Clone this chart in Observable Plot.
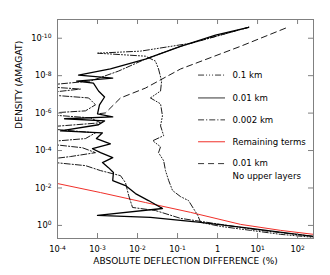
<!DOCTYPE html>
<html>
<head>
<meta charset="utf-8">
<script src="https://cdn.jsdelivr.net/npm/d3@7"></script>
<script src="https://cdn.jsdelivr.net/npm/@observablehq/plot@0.6"></script>
<style>
  html, body { margin: 0; padding: 0; background: white; }
</style>
</head>
<body>
<div id="chart"></div>
<script>
// ---- data ----
// 0.01 km step (solid)
const km001_density = [2.6e-11, 6.9e-11, 2.7e-10, 1.3e-9, 4.4e-9, 9.3e-9, 1.34e-8, 1.94e-8, 2.5e-8, 6.6e-8, 1.38e-7, 3.6e-7, 1.1e-6, 1.6e-6, 2.0e-6, 2.6e-6, 4.2e-6, 8.9e-6, 1.13e-5, 2.3e-5, 4.4e-5, 8.0e-5, 1.3e-4, 2.4e-4, 4.4e-4, 8.2e-4, 1.5e-3, 4.0e-3, 7.4e-3, 2.0e-2, 4.7e-2, 0.125, 0.29, 0.37, 0.69, 1.44, 3.85];
const km001_diff    = [6.0, 0.89, 0.119, 1.58e-2, 2.1e-3, 3.35e-4, 2.4e-3, 3.0e-4, 7.9e-4, 1.06e-3, 1.5e-3, 1.12e-3, 1.0e-3, 2.4e-3, 1.5e-4, 1.5e-3, 1.06e-3, 1.19e-4, 1.33e-3, 9.4e-4, 2.1e-3, 7.5e-4, 1.19e-3, 2.4e-3, 1.33e-3, 1.88e-3, 2.5e-3, 2.4e-3, 5.0e-3, 8.9e-3, 1.88e-2, 4.2e-2, 1.0e-3, 2.1e-2, 0.376, 6.7, 251];

// 0.1 km step (dash dot dot)
const km01_density = [2.6e-11, 1.86e-10, 4.9e-10, 6.3e-10, 9.1e-10, 1.67e-9, 4.4e-9, 1.94e-8, 6.6e-8, 1.55e-7, 3.2e-7, 1.4e-6, 4.8e-6, 1.6e-5, 3.0e-5, 6.3e-5, 1.3e-4, 3.5e-4, 1.18e-3, 4.0e-3, 1.37e-2, 2.9e-2, 4.7e-2, 0.125, 0.29, 0.69, 1.13, 1.84, 3.0, 4.35];
const km01_diff    = [6.0, 0.21, 1.19e-2, 1.0e-3, 1.58e-2, 2.8e-2, 3.35e-2, 4.0e-2, 3.76e-2, 2.1e-2, 3.76e-2, 4.2e-2, 3.76e-2, 4.5e-2, 2.4e-2, 3.76e-2, 3.35e-2, 4.5e-2, 5.0e-2, 6.0e-2, 7.5e-2, 0.119, 0.188, 0.25, 0.32, 0.376, 1.19, 6.7, 37.6, 251];

// 0.002 km step (dash dot)
const km0002_density = [2.6e-11, 2.7e-10, 1.3e-9, 5.7e-9, 1.94e-8, 3.6e-8, 5.2e-8, 9.5e-8, 1.55e-7, 3.6e-7, 7.6e-7, 1.1e-6, 1.8e-6, 3.3e-6, 6.1e-6, 1.13e-5, 2.3e-5, 3.8e-5, 7.1e-5, 1.3e-4, 2.1e-4, 3.5e-4, 6.4e-4, 1.18e-3, 2.2e-3, 5.2e-3, 2.5e-2, 0.11, 0.16, 0.42, 0.88, 1.84, 3.85];
const km0002_diff    = [6.0, 0.119, 1.58e-2, 3.35e-3, 6.7e-4, 3e-5, 3.76e-4, 3e-5, 6.0e-4, 8.9e-4, 5.0e-4, 3e-5, 6.7e-4, 1.19e-3, 3e-5, 8.9e-4, 5.0e-4, 3e-5, 4.2e-4, 8.9e-4, 2.1e-4, 3e-5, 5.0e-4, 1.19e-3, 3.76e-3, 5.0e-3, 6.0e-3, 7.5e-3, 2.8e-2, 0.119, 1.19, 11.9, 251];

// Remaining terms (red)
const rem_density = [5.8e-3, 1.76e-2, 6.0e-2, 0.20, 0.88, 1.84, 3.0];
const rem_diff    = [1e-4, 1.19e-3, 1.58e-2, 0.21, 3.76, 37.6, 251];

// 0.01 km, no upper layers (dashed)
const noup_density = [2.9e-11, 2.7e-10, 4.4e-9, 4.6e-8, 1.55e-7, 9.8e-7, 1.1e-6];
const noup_diff    = [50, 3.76, 0.119, 1.58e-2, 3.76e-3, 1.58e-3, 1.0e-3];

// ticks
const xTicks = [1e-4, 1e-3, 1e-2, 1e-1, 1, 10, 100];
const xTickLabels = ["10^-4", "10^-3", "10^-2", "10^-1", "1", "10^1", "10^2"];
const yTicks = [1e-10, 1e-8, 1e-6, 1e-4, 1e-2, 1];
const yTickLabels = ["10^-10", "10^-8", "10^-6", "10^-4", "10^-2", "10^0"];

// legend
const legendLabels = ["0.1 km", "0.01 km", "0.002 km", "Remaining terms", "0.01 km", "No upper layers"];

// ---- layout / styles ----
const W = 330, H = 275, mL = 57, mR = 17, mT = 19, mB = 37;
const frameW = W - mL - mR, frameH = H - mT - mB;
const styles = {
  km01:   {stroke: "black", strokeWidth: 0.9, strokeDasharray: "6,2,1,2,1,2,1,2"},
  km001:  {stroke: "black", strokeWidth: 1.3},
  km0002: {stroke: "black", strokeWidth: 0.9, strokeDasharray: "6,2,1.2,2"},
  rem:    {stroke: "#f0302a", strokeWidth: 1},
  noup:   {stroke: "black", strokeWidth: 0.9, strokeDasharray: "6,4"}
};
// legend placement in data coordinates
const legendLayout = {
  x1: 0.335, x2: 1.58, xText: 2.37,
  rows: [9.3e-9, 1.55e-7, 2.3e-6, 3.4e-5, 5.0e-4, 2.5e-3],
  styleKeys: ["km01", "km001", "km0002", "rem", "noup", null]
};

const zip = (ys, xs) => ys.map((y, i) => ({y, x: xs[i]}));
const series = [
  ["rem", zip(rem_density, rem_diff)],
  ["noup", zip(noup_density, noup_diff)],
  ["km01", zip(km01_density, km01_diff)],
  ["km0002", zip(km0002_density, km0002_diff)],
  ["km001", zip(km001_density, km001_diff)]
];

const marks = [];
for (const [key, data] of series) {
  marks.push(Plot.line(data, {x: "x", y: "y", clip: true, ...styles[key]}));
}
// legend
legendLayout.rows.forEach((y, i) => {
  const k = legendLayout.styleKeys[i];
  if (k) {
    const s = {...styles[k], strokeWidth: k === "rem" ? 1 : 0.8};
    marks.push(Plot.ruleY([y], {y: d => d, x1: legendLayout.x1, x2: legendLayout.x2, ...s}));
  }
});
marks.push(Plot.text(legendLabels.map((t, i) => ({t, y: legendLayout.rows[i]})), {
  x: legendLayout.xText, y: "y", text: "t", textAnchor: "start", fontSize: 8.6, fill: "black"
}));

// frame ticks (inward)
const tickStroke = "#808080";
marks.push(Plot.ruleX(xTicks, {x: d => d, insetTop: frameH - 5, stroke: tickStroke}));
marks.push(Plot.ruleX(xTicks, {x: d => d, insetBottom: frameH - 5, stroke: tickStroke}));
marks.push(Plot.ruleY(yTicks, {y: d => d, insetRight: frameW - 5, stroke: tickStroke}));
marks.push(Plot.ruleY(yTicks, {y: d => d, insetLeft: frameW - 5, stroke: tickStroke}));
marks.push(Plot.frame({stroke: tickStroke}));

marks.push(Plot.axisX(xTicks, {tickSize: 0, tickPadding: 8, label: null, fontSize: 8.3,
  tickFormat: d => xTickLabels[xTicks.indexOf(d)]}));
marks.push(Plot.axisY(yTicks, {tickSize: 0, tickPadding: 6, label: null, fontSize: 8.3,
  tickFormat: d => yTickLabels[yTicks.indexOf(d)]}));

marks.push(Plot.text(["ABSOLUTE DEFLECTION DIFFERENCE (%)"], {frameAnchor: "bottom", dy: 25, fontSize: 9, fill: "black"}));
marks.push(Plot.text(["DENSITY (AMAGAT)"], {frameAnchor: "left", dx: -38, rotate: -90, fontSize: 9.2, fill: "black"}));

const chart = Plot.plot({
  width: W, height: H,
  marginLeft: mL, marginRight: mR, marginTop: mT, marginBottom: mB,
  style: {fontFamily: "DejaVu Sans", fontSize: "8.3px", background: "white", color: "black", overflow: "visible"},
  x: {type: "log", domain: [1e-4, 250]},
  y: {type: "log", domain: [5, 1e-11]},
  marks
});

// superscripts on tick labels
chart.querySelectorAll('g[aria-label="x-axis tick label"] text, g[aria-label="y-axis tick label"] text').forEach(t => {
  const s = t.textContent;
  const i = s.indexOf("^");
  if (i < 0) return;
  t.textContent = s.slice(0, i);
  const ts = document.createElementNS("http://www.w3.org/2000/svg", "tspan");
  ts.setAttribute("dy", "-0.45em");
  ts.setAttribute("font-size", "6px");
  ts.textContent = s.slice(i + 1);
  t.appendChild(ts);
});

document.getElementById("chart").appendChild(chart);
</script>
</body>
</html>
